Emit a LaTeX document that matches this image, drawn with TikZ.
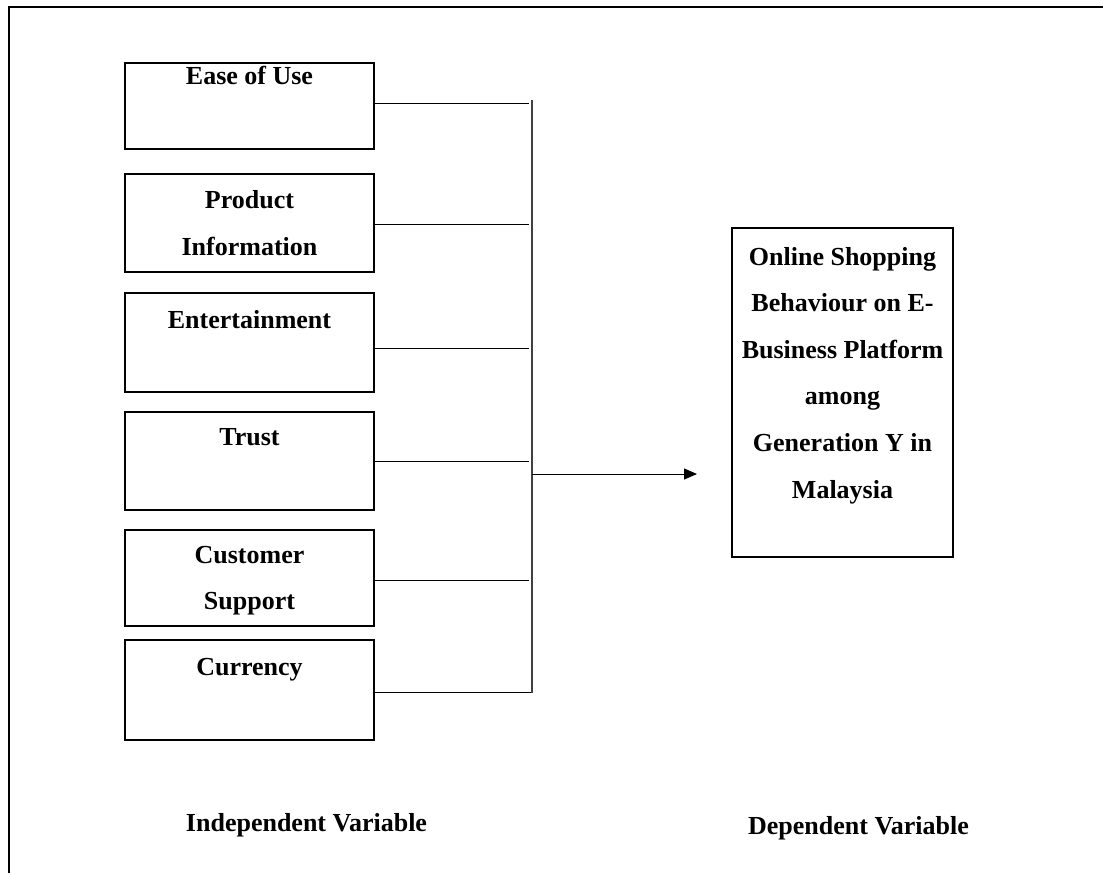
\documentclass[tikz,border=0pt]{standalone}
\usepackage{fontspec}
\setmainfont{Liberation Serif}
\usetikzlibrary{arrows.meta}
\begin{document}
\begin{tikzpicture}[x=1pt,y=-1pt,
  box/.style={draw,line width=2pt,minimum width=249pt,inner sep=0pt,outer sep=0pt},
  lbl/.style={font=\fontsize{26}{46.6}\selectfont\bfseries,anchor=base,inner sep=0pt},
  conn/.style={line width=1pt},
  bus/.style={line width=1.4pt,draw=black!75}]
\useasboundingbox (0,0) rectangle (1103,873);
% frame
\draw[line width=2.5pt] (9,873) -- (9,7) -- (1103,7);
% independent variable boxes
\node[box,minimum height=86pt] (b1) at (249.5,106) {};
\node[box,minimum height=98pt] (b2) at (249.5,223) {};
\node[box,minimum height=99pt] (b3) at (249.5,342.5) {};
\node[box,minimum height=98pt] (b4) at (249.5,461) {};
\node[box,minimum height=96pt] (b5) at (249.5,578) {};
\node[box,minimum height=100pt] (b6) at (249.5,690) {};
\node[lbl] (t1) at (249.5,84) {Ease of Use};
\node[lbl] (t2a) at (249.5,208) {Product};
\node[lbl] (t2b) at (249.5,255) {Information};
\node[lbl] (t3) at (249.5,328) {Entertainment};
\node[lbl] (t4) at (249.5,445) {Trust};
\node[lbl] (t5a) at (249.5,563) {Customer};
\node[lbl] (t5b) at (249.5,609) {Support};
\node[lbl] (t6) at (249.5,675) {Currency};
% dependent variable box
\node[box,minimum width=221pt,minimum height=329pt] (tg) at (842.5,392.5) {};
\node[lbl] (u1) at (842.5,265) {Online Shopping};
\node[lbl] (u2) at (842.5,311.6) {Behaviour on E-};
\node[lbl] (u3) at (842.5,358.2) {Business Platform};
\node[lbl] (u4) at (842.5,404.8) {among};
\node[lbl] (u5) at (842.5,451.4) {Generation Y in};
\node[lbl] (u6) at (842.5,498) {Malaysia};
% connectors
\coordinate (j1) at (529,103);
\coordinate (j2) at (529,224);
\coordinate (j3) at (529,348);
\coordinate (j4) at (529,461);
\coordinate (j5) at (529,580);
\coordinate (j6) at (532,692);
\coordinate (vtop) at (532,100);
\coordinate (vbot) at (532,693);
\coordinate (vmid) at (532,474);
\coordinate (tip) at (697,474);
\draw[conn] (b1.east|-j1) -- (j1);
\draw[conn] (b2.east|-j2) -- (j2);
\draw[conn] (b3.east|-j3) -- (j3);
\draw[conn] (b4.east|-j4) -- (j4);
\draw[conn] (b5.east|-j5) -- (j5);
\draw[conn] (b6.east|-j6) -- (j6);
\draw[bus] (vtop) -- (vbot);
\draw[conn,-{Triangle[length=13pt,width=11pt]}] (vmid) -- (tip);
% axis labels
\node[lbl] (iv) at (306.5,831) {Independent Variable};
\node[lbl] (dv) at (858.5,834) {Dependent Variable};
\end{tikzpicture}
\end{document}
